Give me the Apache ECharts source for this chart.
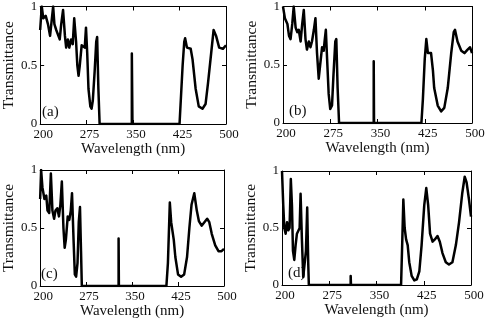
<!DOCTYPE html>
<html><head><meta charset="utf-8">
<script src="https://cdn.jsdelivr.net/npm/echarts@6/dist/echarts.min.js"></script>
<style>html,body{margin:0;padding:0;background:#fff}#c{width:489px;height:325px}</style>
</head><body><div id="c"></div>
<script>
// Panel (a)
var wlA = [200,202.6,205,209,212.6,216,218,221,223,226,229,231.6,234,237,240,242,244.7,247,250,252.6,255,258,260,262,264,267,269.5,272,274,276,278,281,283,285,288,290.5,292,294,296,348,348,349,349,425,427,430,432.6,434,437,440,443,446,451,456,462,467,471,476,480,484,489,495,500];
var tA  = [0.8,1.0,0.9,0.92,0.85,0.75,0.85,1.0,0.85,0.8,0.8,0.72,0.85,0.97,0.75,0.65,0.72,0.65,0.72,0.68,0.9,0.7,0.5,0.41,0.5,0.67,0.68,0.65,0.82,0.6,0.3,0.15,0.13,0.2,0.45,0.7,0.74,0.3,0,0,0.6,0.6,0,0,0.2,0.5,0.7,0.73,0.65,0.65,0.64,0.55,0.3,0.15,0.13,0.17,0.35,0.6,0.8,0.75,0.65,0.64,0.67];
// Panel (b)
var wlB = [200,203,207,209.5,212,214.7,217,220,222.6,225,228,230.5,233,235.7,238,241,243.6,246,249,251.5,254,256.7,259,262,264.6,266,268,270,272.5,275,277.8,280,283,284.6,286.7,289,344,344,344.5,344.5,419.7,422,425,427.5,430,432.6,435,438,440,445.6,451,456,461.5,467,471,473,477,483,488,493,497,500];
var tB  = [1.0,0.9,0.85,0.75,0.72,0.85,1.0,0.82,0.78,0.8,0.7,0.85,0.97,0.72,0.63,0.7,0.65,0.7,0.8,0.9,0.6,0.38,0.5,0.65,0.62,0.7,0.8,0.55,0.25,0.12,0.15,0.4,0.7,0.72,0.3,0,0,0.53,0.53,0,0,0.2,0.55,0.72,0.6,0.6,0.6,0.45,0.3,0.15,0.1,0.13,0.3,0.6,0.78,0.8,0.7,0.62,0.6,0.63,0.65,0.6];
// Panel (c)
var wlC = [200,201.6,203.7,207,210,212,214.8,217.5,220,222.8,225,228,230.7,233,235.4,238,240,242,245,247.6,250,252,254.5,256.6,258.7,261,263,265,266.7,268,328,328,328.5,328.5,406,408.5,411.6,413.8,416,418,420.6,425,430,435,439.7,443.5,447,451.5,455.6,459,463.5,468,472.5,476,480,485.7,491,496,500];
var tC  = [0.75,1.0,0.85,0.75,0.78,0.65,0.63,0.97,0.65,0.58,0.65,0.67,0.6,0.7,0.9,0.5,0.33,0.4,0.6,0.57,0.65,0.8,0.4,0.1,0.08,0.2,0.55,0.68,0.3,0,0,0.41,0.41,0,0,0.2,0.72,0.55,0.56,0.4,0.25,0.1,0.08,0.1,0.25,0.5,0.7,0.8,0.65,0.56,0.52,0.55,0.58,0.55,0.45,0.35,0.3,0.3,0.32];
// Panel (d)
var wlD = [200,202,203.7,205.8,208,210,212,214,215.8,217.4,219.5,221.6,223.7,225.8,228,229.5,231.6,233.7,235.8,238,240,241.6,242.6,309,309,309.5,309.5,389,391,392.6,394.7,397,399.5,402,405.8,410,414,418,421.6,425.8,429,432,435,439,442.6,446.8,450.5,454.7,460,465,470.5,476,481,486,490,493,496.8,500];
var tD  = [1.0,0.7,0.5,0.45,0.55,0.48,0.5,0.93,0.7,0.3,0.22,0.35,0.45,0.45,0.5,0.8,0.4,0.07,0.06,0.3,0.68,0.2,0,0,0.08,0.08,0,0,0.4,0.75,0.5,0.4,0.35,0.2,0.08,0.04,0.05,0.12,0.35,0.7,0.85,0.7,0.45,0.38,0.4,0.43,0.38,0.28,0.2,0.18,0.2,0.35,0.55,0.8,0.95,0.9,0.75,0.6];

var xTicks = [200,275,350,425,500];
var yTicks = [0,0.5,1];
var panelLabels = ['(a)','(b)','(c)','(d)'];
var xName = 'Wavelength (nm)';
var yName = 'Transmittance';

var panels = [[wlA,tA],[wlB,tB],[wlC,tC],[wlD,tD]];
var grids = [
  {left:36, top:6, width:190, height:118},
  {left:283, top:6, width:189, height:117},
  {left:35, top:170, width:189, height:116},
  {left:282, top:171, width:189, height:114}
];
var FONT = 'Liberation Serif';
var xAxes = [], yAxes = [], series = [], graphics = [];
grids.forEach(function(g, i){
  xAxes.push({gridIndex:i, type:'value', min:xTicks[0], max:xTicks[xTicks.length-1], interval:75, position:'bottom',
    axisLine:{show:true, onZero:false, lineStyle:{color:'#000', width:1}},
    axisTick:{show:true, inside:true, length:4, lineStyle:{color:'#000'}},
    splitLine:{show:false},
    axisLabel:{color:'#111', fontFamily:FONT, fontSize:13, margin:4, padding:[0,0,0,6]},
    name:xName, nameLocation:'middle', nameGap:17, nameTextStyle:{color:'#111', fontFamily:FONT, fontSize:15}});
  xAxes.push({gridIndex:i, type:'value', min:200, max:500, interval:75, position:'top',
    axisLine:{show:true, onZero:false, lineStyle:{color:'#000', width:1}},
    axisTick:{show:true, inside:true, length:4, lineStyle:{color:'#000'}},
    splitLine:{show:false}, axisLabel:{show:false}});
  yAxes.push({gridIndex:i, type:'value', min:yTicks[0], max:yTicks[2], interval:0.5, position:'left',
    axisLine:{show:true, onZero:false, lineStyle:{color:'#000', width:1}},
    axisTick:{show:true, inside:true, length:4, lineStyle:{color:'#000'}},
    splitLine:{show:false},
    axisLabel:{color:'#111', fontFamily:FONT, fontSize:13, margin:3},
    name:yName, nameLocation:'middle', nameGap:16, nameTextStyle:{color:'#111', fontFamily:FONT, fontSize:15.5}});
  yAxes.push({gridIndex:i, type:'value', min:0, max:1, interval:0.5, position:'right',
    axisLine:{show:true, onZero:false, lineStyle:{color:'#000', width:1}},
    axisTick:{show:true, inside:true, length:4, lineStyle:{color:'#000'}},
    splitLine:{show:false}, axisLabel:{show:false}});
  var wl = panels[i][0], t = panels[i][1];
  series.push({type:'line', xAxisIndex:2*i, yAxisIndex:2*i, showSymbol:false, symbol:'none',
    lineStyle:{color:'#000', width:2.5, join:'round'}, data: wl.map(function(w,k){return [w, t[k]];}), animation:false});
  graphics.push({type:'text', left:g.left+6, top:g.top+g.height-19,
    style:{text:panelLabels[i], fill:'#111', font:'15px "Liberation Serif"'}});
});

var chart = echarts.init(document.getElementById('c'));
chart.setOption({
  backgroundColor:'#fff',
  animation:false,
  grid: grids.map(function(g){return Object.assign({containLabel:false}, g);}),
  xAxis:xAxes, yAxis:yAxes, series:series, graphic:graphics
});
</script></body></html>
